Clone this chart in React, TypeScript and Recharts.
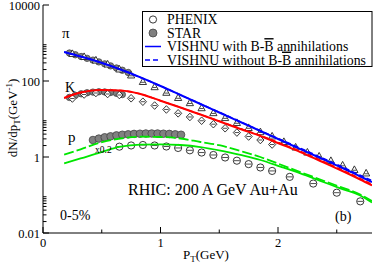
import React from 'react';
import { ComposedChart, Line, Scatter, XAxis, YAxis } from 'recharts';

// ---------- data ----------
const modelPt = [0.18, 0.32, 0.49, 0.66, 0.83, 1.0, 1.17, 1.34, 1.51, 1.68, 1.85, 2.02, 2.19, 2.36, 2.53, 2.7, 2.8];
const pionWith = [580, 441, 307, 201, 124, 73.9, 42.8, 24.8, 14.4, 8.34, 4.83, 2.8, 1.62, 0.94, 0.546, 0.307, 0.22];
const pionWithout = [580, 441, 307, 201, 124, 74, 43, 25, 14.6, 8.5, 4.95, 2.9, 1.7, 0.99, 0.58, 0.33, 0.24];
const kaonWith = [35.7, 49.8, 58, 56.2, 45.5, 30.3, 20.1, 13.1, 8.49, 5.45, 3.57, 2.2, 1.35, 0.785, 0.455, 0.256, 0.178];
const kaonWithout = [35.7, 49.8, 58, 56.2, 45.5, 30.3, 20.1, 13.1, 8.6, 5.6, 3.7, 2.3, 1.42, 0.83, 0.48, 0.27, 0.19];
const protonWith = [0.675, 0.914, 1.33, 1.87, 2.12, 2.16, 2.07, 1.83, 1.48, 1.13, 0.834, 0.559, 0.37, 0.236, 0.15, 0.097, 0.0635];
const protonWithout = [1.16, 1.59, 2.42, 3.07, 3.42, 3.36, 3.07, 2.48, 2.01, 1.44, 1.0, 0.635, 0.4, 0.256, 0.163, 0.103, 0.0695];

const phenixPionPt = [0.25, 0.35, 0.45, 0.55, 0.65, 0.75, 0.85, 0.95, 1.05, 1.15, 1.25, 1.35, 1.45, 1.55, 1.65, 1.75, 1.85, 1.95, 2.05, 2.15, 2.25, 2.35, 2.45, 2.55, 2.65, 2.75];
const phenixPion = [530, 441, 357, 280, 207, 144, 97, 70.8, 50.4, 36.8, 26.9, 19.8, 14.7, 10.9, 8.09, 5.97, 4.63, 3.57, 2.56, 1.83, 1.35, 1.06, 0.81, 0.615, 0.47, 0.38];
const starPionPt = [0.225, 0.275, 0.325, 0.375, 0.425, 0.475, 0.525, 0.575, 0.625, 0.675, 0.725];
const starPion = [545, 490, 440, 395, 355, 318, 283, 250, 220, 192, 168];

const phenixKaonPt = [0.25, 0.35, 0.45, 0.55, 0.65, 0.75, 0.85, 0.95, 1.05, 1.15, 1.25, 1.35, 1.45, 1.55, 1.65, 1.75, 1.85, 1.95];
const phenixKaon = [34.6, 44.1, 48.3, 45.5, 42.8, 35.1, 28.5, 22.6, 17.8, 14.1, 11.3, 9.0, 7.3, 5.7, 4.4, 3.46, 2.8, 2.13];
const starKaonPt = [0.225, 0.275, 0.325, 0.375, 0.425, 0.475, 0.525, 0.575, 0.625, 0.675];
const starKaon = [37, 42, 46, 49, 51, 52, 51.5, 50, 47.5, 44];

const phenixProtonPt = [0.65, 0.75, 0.85, 0.95, 1.05, 1.15, 1.25, 1.35, 1.45, 1.55, 1.65, 1.75, 1.85, 1.95, 2.1, 2.3, 2.5, 2.7];
const phenixProton = [1.87, 2.01, 2.07, 2.01, 1.89, 1.73, 1.5, 1.31, 1.13, 0.97, 0.8, 0.65, 0.53, 0.43, 0.3, 0.2, 0.115, 0.068];
const starProtonPt = [0.425, 0.475, 0.525, 0.575, 0.625, 0.675, 0.725, 0.775, 0.825, 0.875, 0.925, 0.975, 1.025, 1.075, 1.125, 1.175];
const starProton = [2.8, 3.05, 3.3, 3.5, 3.7, 3.85, 3.95, 4.05, 4.1, 4.15, 4.15, 4.15, 4.1, 4.05, 3.95, 3.85];

const xMajor = [0, 1, 2];
const xMinor = [0.5, 1.5, 2.5];
const yMajor = [0.01, 1, 100, 10000];
const yMinor = [0.02, 0.03, 0.04, 0.05, 0.06, 0.07, 0.08, 0.09, 2, 3, 4, 5, 6, 7, 8, 9, 200, 300, 400, 500, 600, 700, 800, 900];

const zip = (xs: number[], ys: number[]) => xs.map((pt, i) => ({ pt, v: ys[i] }));

const FONT = "'Liberation Serif', 'Times New Roman', 'DejaVu Serif', serif";
const BLUE = '#0000ff';
const RED = '#ff0000';
const GREEN = '#00e600';
const MAJ = 6;
const MIN = 3.5;
const M = 3;
const LEG = 13.8;

const isIn = (arr: number[], v: number) => arr.some((a) => Math.abs(a - v) < 1e-9 * Math.max(1, Math.abs(a)));

// ---------- ticks ----------
const LeftTick = (p: any) => {
  const { x, y, payload } = p;
  const major = isIn(yMajor, payload.value);
  const ax = x + M;
  return (
    <g>
      <line x1={ax} x2={ax + (major ? MAJ : MIN)} y1={y} y2={y} stroke="#000" strokeWidth={1} />
      {major && (
        <text x={x} y={y + 4.5} textAnchor="end" fontFamily={FONT} fontSize={12.5} fill="#000">
          {String(payload.value)}
        </text>
      )}
    </g>
  );
};
const RightTick = (p: any) => {
  const { x, y, payload } = p;
  const major = isIn(yMajor, payload.value);
  const ax = x - M;
  return <line x1={ax} x2={ax - (major ? MAJ : MIN)} y1={y} y2={y} stroke="#000" strokeWidth={1} />;
};
const BottomTick = (p: any) => {
  const { x, y, payload } = p;
  const major = isIn(xMajor, payload.value);
  const ay = y - M;
  return (
    <g>
      <line x1={x} x2={x} y1={ay} y2={ay - (major ? MAJ : MIN)} stroke="#000" strokeWidth={1} />
      {major && (
        <text x={x} y={ay + 13.5} textAnchor="middle" fontFamily={FONT} fontSize={12.5} fill="#000">
          {String(payload.value)}
        </text>
      )}
    </g>
  );
};
const TopTick = (p: any) => {
  const { x, y, payload } = p;
  const major = isIn(xMajor, payload.value);
  const ay = y + M;
  return <line x1={x} x2={x} y1={ay} y2={ay + (major ? MAJ : MIN)} stroke="#000" strokeWidth={1} />;
};

// ---------- markers ----------
const TriShape = (p: any) => {
  const { cx, cy } = p;
  return (
    <g>
      <path d={`M${cx - 3.6},${cy + 3} L${cx + 3.6},${cy + 3} L${cx},${cy - 3.6} Z`} fill="#fff" stroke="#222" strokeWidth={0.9} />
      <line x1={cx - 2} x2={cx + 2} y1={cy + 0.8} y2={cy + 0.8} stroke="#222" strokeWidth={0.8} />
    </g>
  );
};
const DiaShape = (p: any) => {
  const { cx, cy } = p;
  return (
    <g>
      <path d={`M${cx},${cy - 3.8} L${cx + 3.6},${cy} L${cx},${cy + 3.8} L${cx - 3.6},${cy} Z`} fill="#fff" stroke="#222" strokeWidth={0.9} />
      <line x1={cx - 2.2} x2={cx + 2.2} y1={cy} y2={cy} stroke="#222" strokeWidth={0.8} />
    </g>
  );
};
const CircShape = (p: any) => {
  const { cx, cy } = p;
  return (
    <g>
      <circle cx={cx} cy={cy} r={3.6} fill="#fff" stroke="#222" strokeWidth={0.9} />
      <line x1={cx - 3} x2={cx + 3} y1={cy} y2={cy} stroke="#222" strokeWidth={0.8} />
    </g>
  );
};
const StarShape = (p: any) => {
  const { cx, cy } = p;
  return <circle cx={cx} cy={cy} r={3.8} fill="#808080" stroke="#444" strokeWidth={0.8} />;
};
const SmallStarShape = (p: any) => {
  const { cx, cy } = p;
  return <circle cx={cx} cy={cy} r={3.2} fill="#808080" stroke="#444" strokeWidth={0.8} />;
};

const models = [
  { data: pionWith, color: BLUE, dash: undefined, w: 2 },
  { data: pionWithout, color: BLUE, dash: '5 3', w: 1.5 },
  { data: kaonWith, color: RED, dash: undefined, w: 2 },
  { data: kaonWithout, color: RED, dash: '5 3', w: 1.5 },
  { data: protonWith, color: GREEN, dash: undefined, w: 1.8 },
  { data: protonWithout, color: GREEN, dash: '10 3', w: 1.8 },
];

export default function App() {
  return (
    <div style={{ position: 'absolute', left: 0, top: 0, width: 374, height: 266, background: '#fff' }}>
      <ComposedChart width={374} height={266} margin={{ top: 5, right: 2, bottom: 0, left: 0 }}>
        <XAxis
          xAxisId="b"
          dataKey="pt"
          type="number"
          domain={[0, 2.8]}
          allowDataOverflow
          orientation="bottom"
          height={33}
          ticks={[...xMajor, ...xMinor]}
          interval={0}
          tickSize={0}
          tickMargin={M}
          tickLine={false}
          axisLine={{ stroke: '#000' }}
          tick={<BottomTick />}
        />
        <XAxis
          xAxisId="t"
          dataKey="pt"
          type="number"
          domain={[0, 2.8]}
          allowDataOverflow
          orientation="top"
          height={0}
          ticks={[...xMajor, ...xMinor]}
          interval={0}
          tickSize={0}
          tickMargin={M}
          tickLine={false}
          axisLine={{ stroke: '#000' }}
          tick={<TopTick />}
        />
        <YAxis
          yAxisId="l"
          dataKey="v"
          type="number"
          scale="log"
          domain={[0.01, 10000]}
          allowDataOverflow
          orientation="left"
          width={43}
          ticks={[...yMajor, ...yMinor]}
          interval={0}
          tickSize={0}
          tickMargin={M}
          tickLine={false}
          axisLine={{ stroke: '#000' }}
          tick={<LeftTick />}
        />
        <YAxis
          yAxisId="r"
          dataKey="v"
          type="number"
          scale="log"
          domain={[0.01, 10000]}
          allowDataOverflow
          orientation="right"
          width={0}
          ticks={[...yMajor, ...yMinor]}
          interval={0}
          tickSize={0}
          tickMargin={M}
          tickLine={false}
          axisLine={{ stroke: '#000' }}
          tick={<RightTick />}
        />
        <Scatter xAxisId="b" yAxisId="l" data={zip(starPionPt, starPion)} dataKey="v" shape={<SmallStarShape />} isAnimationActive={false} />
        <Scatter xAxisId="b" yAxisId="l" data={zip(phenixPionPt, phenixPion)} dataKey="v" shape={<TriShape />} isAnimationActive={false} />
        <Scatter xAxisId="b" yAxisId="l" data={zip(starKaonPt, starKaon)} dataKey="v" shape={<SmallStarShape />} isAnimationActive={false} />
        <Scatter xAxisId="b" yAxisId="l" data={zip(phenixKaonPt, phenixKaon)} dataKey="v" shape={<DiaShape />} isAnimationActive={false} />
        <Scatter xAxisId="b" yAxisId="l" data={zip(phenixProtonPt, phenixProton)} dataKey="v" shape={<CircShape />} isAnimationActive={false} />
        <Scatter xAxisId="b" yAxisId="l" data={zip(starProtonPt, starProton)} dataKey="v" shape={<StarShape />} isAnimationActive={false} />
        {models.map((m, i) => (
          <Line
            key={i}
            xAxisId="b"
            yAxisId="l"
            data={zip(modelPt, m.data)}
            dataKey="v"
            type="monotone"
            stroke={m.color}
            strokeWidth={m.w}
            strokeDasharray={m.dash}
            dot={false}
            activeDot={false}
            isAnimationActive={false}
            {...({ zIndex: 700 } as any)}
          />
        ))}
      </ComposedChart>
      <svg
        width={374}
        height={266}
        style={{ position: 'absolute', left: 0, top: 0, pointerEvents: 'none' }}
        fontFamily={FONT}
      >
        {/* legend */}
        <rect x={142.5} y={11.5} width={229.5} height={55} fill="#fff" stroke="#000" strokeWidth={1} />
        <circle cx={153} cy={19.5} r={3.6} fill="#fff" stroke="#222" strokeWidth={0.9} />
        <text x={167} y={24} fontSize={LEG}>PHENIX</text>
        <circle cx={153} cy={33} r={4} fill="#808080" stroke="#444" strokeWidth={0.8} />
        <text x={167} y={37.6} fontSize={LEG}>STAR</text>
        <line x1={145} x2={161} y1={46.5} y2={46.5} stroke={BLUE} strokeWidth={1.5} />
        <text x={167} y={51.1} fontSize={LEG}>
          VISHNU with B-<tspan style={{ textDecoration: 'overline' }}>B</tspan> annihilations
        </text>
        <line x1={145} x2={161} y1={60} y2={60} stroke={BLUE} strokeWidth={1.5} strokeDasharray="5 3" />
        <text x={167} y={64.6} fontSize={LEG}>
          VISHNU without B-<tspan style={{ textDecoration: 'overline' }}>B</tspan> annihilations
        </text>

        {/* particle labels */}
        <text x={62} y={38} fontSize={15}>π</text>
        <text x={65} y={92} fontSize={14}>K</text>
        <text x={68} y={142} fontSize={15}>p</text>
        <text x={95} y={153} fontSize={9.5}>x0.2</text>

        <text x={128} y={195} fontSize={16}>RHIC: 200 A GeV Au+Au</text>
        <text x={60} y={220} fontSize={14}>0-5%</text>
        <text x={335} y={221} fontSize={14}>(b)</text>

        {/* axis titles */}
        <text x={183} y={259} fontSize={13}>
          P<tspan fontSize={9} dy={3}>T</tspan>
          <tspan dy={-3}>(GeV)</tspan>
        </text>
        <text transform="translate(17,118) rotate(-90)" textAnchor="middle" fontSize={13}>
          dN/dp<tspan fontSize={9} dy={3}>T</tspan>
          <tspan dy={-3}>(GeV</tspan>
          <tspan fontSize={9} dy={-5}>-1</tspan>
          <tspan dy={5}>)</tspan>
        </text>
      </svg>
    </div>
  );
}
